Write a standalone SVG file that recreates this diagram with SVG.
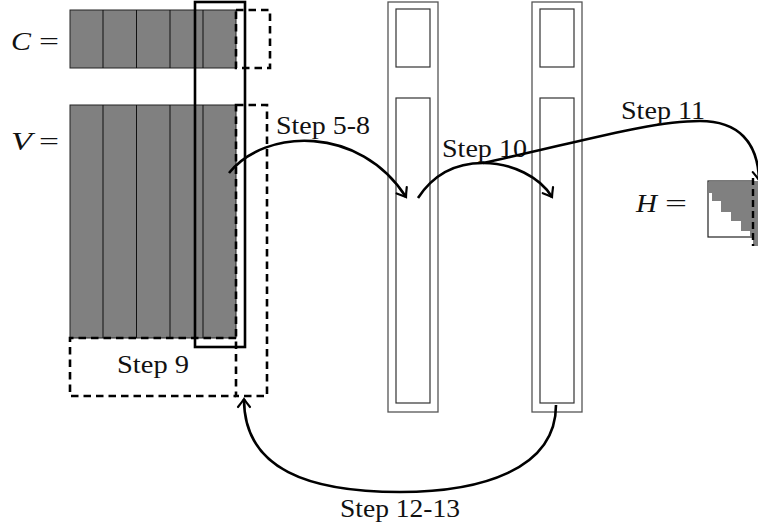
<svg xmlns="http://www.w3.org/2000/svg" width="758" height="527" viewBox="0 0 758 527">
<style>
.gray{fill:#808080;stroke:#222;stroke-width:1}
.div{stroke:#111;stroke-width:1}
.dash{fill:none;stroke:#000;stroke-width:2.6;stroke-dasharray:7.5 5}
.solid{fill:none;stroke:#000;stroke-width:2.6}
.col{fill:#fff;stroke:#555;stroke-width:1.3}
.inner{fill:none;stroke:#333;stroke-width:1.2}
.arr{fill:none;stroke:#000;stroke-width:2.6;marker-end:url(#ah)}
.lbl{font-family:"Liberation Serif",serif;font-size:26px;fill:#111}
.math{font-family:"Liberation Serif",serif;font-size:25px;fill:#111}
.it{font-style:italic}
</style>
<defs>
<marker id="ah" markerUnits="userSpaceOnUse" viewBox="-12 -12 24 24" markerWidth="24" markerHeight="24" refX="0" refY="0" orient="auto" overflow="visible">
<path d="M-8,-6 Q-3,-2 0,0 Q-3,2 -8,6" fill="none" stroke="#000" stroke-width="2.2" stroke-linecap="round"/>
</marker>
</defs>
<rect width="758" height="527" fill="#fff"/>

<g id="matrixC">
<text class="math it" x="11" y="50" textLength="20" lengthAdjust="spacingAndGlyphs">C</text>
<text class="math" x="39" y="50" textLength="20" lengthAdjust="spacingAndGlyphs">=</text>
<rect class="gray" x="70" y="10" width="166" height="58"/>
<line class="div" x1="103" y1="10" x2="103" y2="68"/>
<line class="div" x1="136.5" y1="10" x2="136.5" y2="68"/>
<line class="div" x1="170" y1="10" x2="170" y2="68"/>
<line class="div" x1="203" y1="10" x2="203" y2="68"/>
<rect class="dash" x="236" y="10" width="34" height="58"/>
</g>

<g id="matrixV">
<text class="math it" x="11" y="150" textLength="21" lengthAdjust="spacingAndGlyphs">V</text>
<text class="math" x="39" y="150" textLength="20" lengthAdjust="spacingAndGlyphs">=</text>
<rect class="gray" x="70" y="105" width="166" height="233"/>
<line class="div" x1="103" y1="105" x2="103" y2="338"/>
<line class="div" x1="136.5" y1="105" x2="136.5" y2="338"/>
<line class="div" x1="170" y1="105" x2="170" y2="338"/>
<line class="div" x1="203" y1="105" x2="203" y2="338"/>
<rect class="dash" x="236" y="105" width="31" height="291"/>
</g>

<g id="step9">
<path class="dash" d="M236,338 H70 V396 H236"/>
<text class="lbl" x="117" y="373" textLength="72" lengthAdjust="spacingAndGlyphs">Step 9</text>
</g>

<g id="window">
<rect class="solid" x="195" y="2" width="50" height="345"/>
</g>

<g id="column1">
<rect class="col" x="388" y="2" width="50" height="410"/>
<rect class="inner" x="396" y="9" width="34" height="58"/>
<rect class="inner" x="396" y="98" width="34" height="305"/>
</g>

<g id="column2">
<rect class="col" x="532" y="2" width="50" height="410"/>
<rect class="inner" x="540" y="9" width="34" height="58"/>
<rect class="inner" x="540" y="98" width="34" height="305"/>
</g>

<g id="matrixH">
<text class="math it" x="636" y="212" textLength="21" lengthAdjust="spacingAndGlyphs">H</text>
<text class="math" x="665" y="212" textLength="22" lengthAdjust="spacingAndGlyphs">=</text>
<rect x="708" y="181" width="45" height="56" fill="#fff" stroke="#222" stroke-width="1.2"/>
<polygon fill="#808080" points="708.6,181.6 753,181.6 753,236.4 750,236.4 750,231 741,231 741,221 731,221 731,212 721,212 721,201 712,201 712,193 708.6,193"/>
<rect x="753" y="181" width="6" height="65" fill="#808080"/>
<line x1="753" y1="178" x2="753" y2="246" stroke="#000" stroke-width="2.4" stroke-dasharray="7 4"/>
</g>

<g id="connectors">
<path class="arr" d="M229,173 C265,128 360,125 406,197"/>
<text class="lbl" x="276" y="134" textLength="94" lengthAdjust="spacingAndGlyphs">Step 5-8</text>
<path class="arr" d="M418,198 C435,172 458,163 483,163 C512,163 540,177 552,197"/>
<text class="lbl" x="442" y="157" textLength="85" lengthAdjust="spacingAndGlyphs">Step 10</text>
<path class="arr" d="M483,163 C580,142 650,121 700,121 C738,121 758,142 759,180"/>
<text class="lbl" x="621" y="119" textLength="84" lengthAdjust="spacingAndGlyphs">Step 11</text>
<path class="arr" d="M556,405 C556,470 480,492 400,492 C310,492 244,470 244,399"/>
<text class="lbl" x="340" y="517" textLength="120" lengthAdjust="spacingAndGlyphs">Step 12-13</text>
</g>
</svg>
